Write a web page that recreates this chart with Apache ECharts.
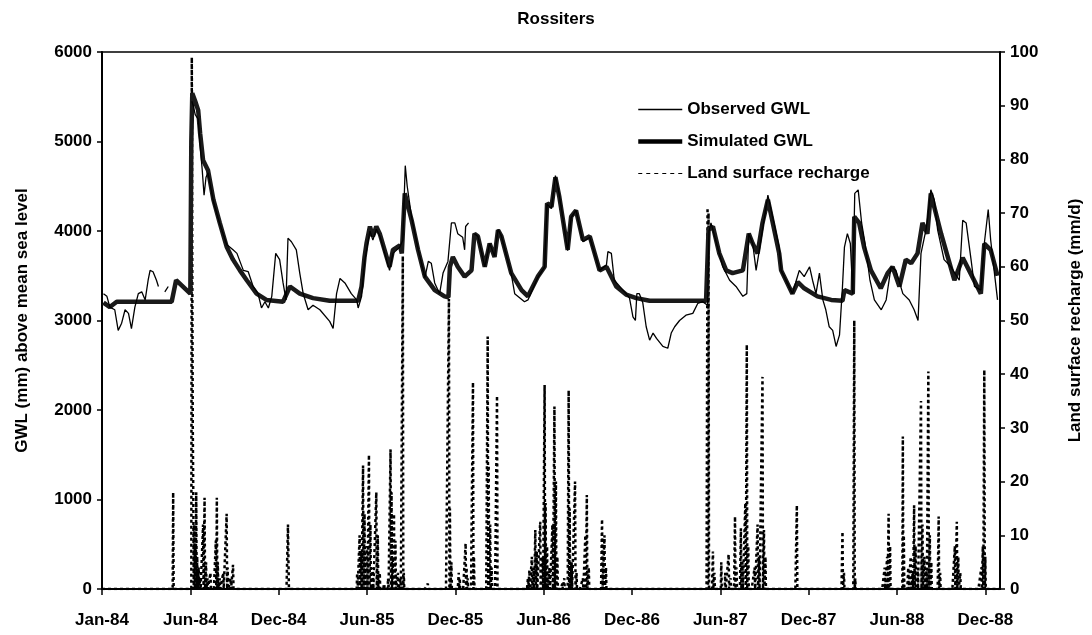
<!DOCTYPE html>
<html>
<head>
<meta charset="utf-8">
<script src="https://cdn.jsdelivr.net/npm/echarts@6/dist/echarts.min.js"></script>
<style>
  html, body { margin: 0; padding: 0; background: #fff; }
  #chart { width: 1092px; height: 635px; }
</style>
</head>
<body>
<div id="chart"></div>
<script>
// x values are days counted from 1 Jan 1984, ticks every 180 days
const xTickLabels = ['Jan-84', 'Jun-84', 'Dec-84', 'Jun-85', 'Dec-85', 'Jun-86', 'Dec-86', 'Jun-87', 'Dec-87', 'Jun-88', 'Dec-88']

// observed GWL (mm), null = no reading
const obsDay = [3, 10, 16, 26, 33, 40, 47, 54, 60, 67, 74, 81, 88, 94, 98, 104, 111, 115, 121, 128, 135, 140,
  183, 186, 190, 196, 200, 204, 208, 212, 216, 227, 240, 254, 267, 275, 288, 298, 308, 318, 325, 332, 339, 346, 354, 362, 369, 375, 379, 386, 396, 403, 410, 420, 430, 444, 464, 471, 478, 485, 495, 508, 519, 522, 529,
  535, 546, 552, 559, 566, 586, 593, 607, 613, 618, 622, 631, 644, 658, 665, 671, 678, 688, 695, 705, 712, 719, 725, 735, 739, 741, 747, 752,
  759, 766, 780, 790, 800, 807, 814, 834, 841, 861, 868, 888, 902, 907, 916, 924, 932, 949, 956, 966, 980, 994, 1014, 1028, 1031, 1038, 1044, 1068, 1075, 1082, 1087, 1090, 1095, 1102, 1109, 1116, 1123, 1130, 1143, 1153, 1160, 1167, 1177, 1190, 1204, 1214, 1224, 1234,
  1237, 1241, 1258, 1265, 1279, 1292, 1306, 1314, 1318, 1326, 1333, 1346, 1357, 1367, 1380, 1384, 1407, 1415, 1421, 1431, 1442, 1448, 1455, 1462, 1469, 1475, 1482, 1489, 1496, 1503, 1509, 1513, 1519, 1525, 1530, 1534, 1541, 1548, 1555, 1565, 1574, 1588, 1598, 1608, 1618, 1632, 1645, 1655, 1663, 1669, 1679, 1682, 1689, 1696, 1703, 1716, 1730, 1747, 1754, 1761, 1771, 1778, 1791, 1798, 1806, 1811, 1818, 1825]
const obsGwl = [3300, 3270, 3150, 3120, 2890, 2970, 3120, 3080, 2910, 3150, 3300, 3320, 3230, 3450, 3560, 3545, 3450, 3380, null, 3320, 3380, null,
  5450, 5400, 5300, 5250, 4950, 4700, 4400, 4600, 4650, 4330, 4080, 3850, 3790, 3750, 3560, 3545, 3380, 3300, 3140, 3210, 3140, 3270, 3750, 3680, 3420, 3230, 3920, 3880, 3790, 3530, 3300, 3120, 3170, 3120, 2990, 2910, 3300, 3470, 3420, 3300, 3230, 3140, 3270,
  3650, 4000, 3900, 4020, 3950, 3560, 3750, 3820, 3900, 4730, 4500, 4150, 3800, 3480, 3660, 3640, 3420, 3300, 3530, 3660, 4090, 4090, 3970, 3930, 3790, 4050, 4090, null,
  3970, 3940, 3600, 3860, 3720, 4020, 3940, 3520, 3300, 3210, 3230, 3480, 3600, 4300, 4250, 4620, 4400, 3780, 4150, 4230, 3880, 3930, 3560, 3620, 3770, 3750, 3450, 3300, 3250, 3040, 3000, 3300, 3300, 3200, 2930, 2780, 2860, 2800, 2710, 2690, 2860, 2930, 3000, 3060, 3080, 3190, 3210, 3170,
  4000, 4090, 3750, 3600, 3450, 3380, 3270, 3300, 3970, 3860, 3560, 4010, 4400, 4150, 3820, 3560, 3300, 3450, 3560, 3490, 3600, 3450, 3300, 3530, 3230, 3120, 2930, 2890, 2710, 2840, 3380, 3820, 3970, 3860, 3300, 4420, 4460, 4090, 3860, 3450, 3230, 3120, 3230, 3600, 3560, 3300, 3230, 3120, 3000, 3750, 4010, 4120, 4460, 4350, 4010, 3680, 3600, 3450, 4120, 4090, 3680, 3380, 3340, 3860, 4240, 3900, 3560, 3230]

// simulated GWL (mm)
const simDay = [3, 16, 30, 142, 151, 180, 182, 184, 190, 196, 200, 206, 216, 227, 240, 254, 267, 281, 295, 315, 335, 369, 383, 403, 430, 464, 522, 529, 535, 539, 546, 552, 559, 566, 586, 593, 607, 611, 617, 620, 631, 644, 658, 678, 698, 706, 709, 715, 725, 739, 753, 759, 766, 780, 790, 800, 807, 814, 834, 855, 868, 888, 902, 907, 916, 924, 932, 949, 956, 966, 980, 994, 1014, 1028, 1048, 1068, 1089, 1116, 1231,
  1236, 1245, 1258, 1272, 1285, 1306, 1318, 1326, 1336, 1346, 1357, 1367, 1380, 1384, 1407, 1418, 1431, 1458, 1486, 1509, 1513, 1530, 1533, 1543, 1553, 1567, 1587, 1601, 1611, 1625, 1638, 1649, 1662, 1672, 1682, 1689, 1696, 1710, 1737, 1754, 1767, 1791, 1798, 1811, 1825]
const simGwl = [3200, 3150, 3210, 3210, 3450, 3300, 5000, 5540, 5450, 5350, 5090, 4790, 4680, 4350, 4090, 3825, 3680, 3560, 3450, 3300, 3230, 3210, 3380, 3300, 3250, 3220, 3220, 3380, 3710, 3860, 4050, 3940, 4050, 3970, 3600, 3790, 3840, 3750, 4420, 4400, 4120, 3790, 3490, 3340, 3270, 3260, 3600, 3710, 3600, 3490, 3560, 3970, 3940, 3600, 3860, 3710, 4010, 3940, 3530, 3340, 3270, 3490, 3600, 4310, 4270, 4600, 4380, 3790, 4160, 4230, 3900, 3940, 3560, 3600, 3380, 3290, 3250, 3220, 3220,
  4010, 4050, 3750, 3560, 3530, 3560, 3970, 3860, 3750, 4090, 4350, 4090, 3750, 3560, 3300, 3430, 3360, 3270, 3230, 3220, 3340, 3300, 4160, 4090, 3820, 3560, 3360, 3530, 3600, 3380, 3680, 3640, 3750, 4090, 3970, 4420, 4270, 3970, 3450, 3700, 3560, 3300, 3860, 3790, 3500]

// land surface recharge (mm/d), days without an entry are zero
const rchDay = [145,
  183, 184, 185, 186, 188, 190, 192, 194, 197, 200, 206, 209, 212, 215, 221, 232, 234, 236, 240, 247, 254, 256, 262, 267,
  379, 380,
  520, 525, 528, 532, 535, 540, 544, 547, 552, 559, 562, 566, 575, 583, 588, 590, 593, 595, 598, 603, 608, 613, 615,
  664, 707, 709, 712, 727, 729, 741, 743, 745, 756, 758, 786, 788, 791, 794, 805,
  868, 871, 876, 880, 883, 886, 893, 898, 902, 904, 907, 912, 918, 922, 925, 928, 938, 942, 951, 953, 957, 964, 967, 980, 985, 988, 992, 1019, 1024, 1027,
  1234, 1236, 1245, 1248, 1262, 1270, 1277, 1281, 1290, 1293, 1302, 1305, 1311, 1314, 1317, 1330, 1336, 1339, 1346, 1349, 1352,
  1416, 1509, 1512, 1533, 1535,
  1595, 1600, 1603, 1606, 1632, 1634, 1643, 1648, 1652, 1655, 1658, 1662, 1669, 1672, 1676, 1680, 1684, 1687, 1690, 1705, 1708, 1738, 1742, 1745, 1749, 1792, 1795, 1798, 1800]
const rchMm = [18,
  99, 60, 30, 18, 12, 8, 18, 6, 4, 2, 12, 17, 5, 2, 3, 9, 17, 5, 2, 3, 14, 4, 2, 4.5,
  12, 5,
  3, 10, 7, 23, 14, 8, 25, 12, 4, 18, 10, 3, 1, 2, 26, 18, 6, 14, 9, 3, 2, 62, 3,
  1, 54, 15, 5, 3, 2, 8.5, 4, 2, 38.5, 6, 47, 23, 12, 4, 36,
  2, 3.5, 6, 4, 11, 7, 12.5, 6, 38, 16, 8, 4, 12, 34, 20, 6, 1, 2, 37, 15, 5, 20, 3, 2, 10, 17.5, 4, 13, 10, 4,
  71, 70, 7, 3, 5, 3, 6.5, 2, 13.5, 4, 11.3, 5, 16, 45.5, 8, 4, 12, 6, 39.5, 11, 6,
  15.6, 10.7, 3, 50, 2,
  4, 6, 14, 8, 28.4, 10, 4, 6, 3, 15.6, 8, 4, 35, 12, 6, 4, 40.5, 10, 5, 13.5, 3, 8, 12.5, 6, 3, 4, 8, 40.8, 6]

const axisFont = { fontFamily: 'Liberation Sans, Arial, sans-serif', fontWeight: 'bold', fontSize: 17, color: '#000' }

const chart = echarts.init(document.getElementById('chart'))

const obsData = obsDay.map((d, i) => [d, obsGwl[i] === null ? '-' : obsGwl[i]])
const simData = simDay.map((d, i) => [d, simGwl[i]])
const rchDaily = new Array(1831).fill(0)
rchDay.forEach((d, i) => { rchDaily[d] = rchMm[i] })
const rchData = rchDaily.map((v, d) => [d, v])

const hideSymbol = { opacity: 0 }

chart.setOption({
  animation: false,
  backgroundColor: '#fff',
  title: {
    text: 'Rossiters',
    left: 551,
    textAlign: 'center',
    top: 6,
    textStyle: { ...axisFont }
  },
  grid: {
    left: 102,
    right: 92,
    top: 52,
    bottom: 46,
    show: true,
    borderColor: '#000',
    borderWidth: 1.5
  },
  legend: {
    orient: 'vertical',
    left: 631,
    top: 96,
    itemWidth: 44,
    itemHeight: 12,
    itemGap: 15,
    textStyle: axisFont,
    data: [
      { name: 'Observed GWL', itemStyle: hideSymbol, lineStyle: { width: 1.3, color: '#000' } },
      { name: 'Simulated GWL', itemStyle: hideSymbol, lineStyle: { width: 4.5, color: '#000' } },
      { name: 'Land surface recharge', itemStyle: hideSymbol, lineStyle: { width: 1, type: [4, 4], color: '#000' } }
    ]
  },
  xAxis: {
    type: 'value',
    min: 0,
    max: 1830,
    interval: 180,
    axisLine: { lineStyle: { color: '#000', width: 2 } },
    axisTick: { inside: false, length: 6, lineStyle: { color: '#000', width: 1.5 } },
    axisLabel: {
      ...axisFont,
      margin: 23,
      showMaxLabel: false,
      formatter: v => (v % 180 === 0 ? xTickLabels[v / 180] : '')
    },
    splitLine: { show: false }
  },
  yAxis: [
    {
      type: 'value',
      min: 0,
      max: 6000,
      interval: 1000,
      name: 'GWL (mm) above mean sea level',
      nameLocation: 'middle',
      nameGap: 71,
      nameTextStyle: axisFont,
      axisLine: { show: true, lineStyle: { color: '#000', width: 2 } },
      axisTick: { show: true, length: 5, lineStyle: { color: '#000', width: 1.5 } },
      axisLabel: { ...axisFont, margin: 10, formatter: v => String(v) },
      splitLine: { show: false }
    },
    {
      type: 'value',
      min: 0,
      max: 100,
      interval: 10,
      name: 'Land surface recharge (mm/d)',
      nameLocation: 'middle',
      nameGap: 67,
      nameRotate: 90,
      nameTextStyle: axisFont,
      axisLine: { show: true, lineStyle: { color: '#000', width: 2 } },
      axisTick: { show: true, length: 5, lineStyle: { color: '#000', width: 1.5 } },
      axisLabel: { ...axisFont, margin: 10, formatter: v => String(v) },
      splitLine: { show: false }
    }
  ],
  series: [
    {
      name: 'Land surface recharge',
      type: 'line',
      yAxisIndex: 1,
      data: rchData,
      symbol: 'none',
      itemStyle: { color: '#000' },
      lineStyle: { color: '#000', width: 2.5, type: [3, 3] },
      z: 1
    },
    {
      name: 'Simulated GWL',
      type: 'line',
      data: simData,
      symbol: 'none',
      itemStyle: { color: '#000' },
      lineStyle: { color: '#1a1a1a', width: 4.5 },
      z: 2
    },
    {
      name: 'Observed GWL',
      type: 'line',
      data: obsData,
      symbol: 'none',
      connectNulls: false,
      itemStyle: { color: '#000' },
      lineStyle: { color: '#000', width: 1.3 },
      z: 3
    }
  ]
})
</script>
</body>
</html>
